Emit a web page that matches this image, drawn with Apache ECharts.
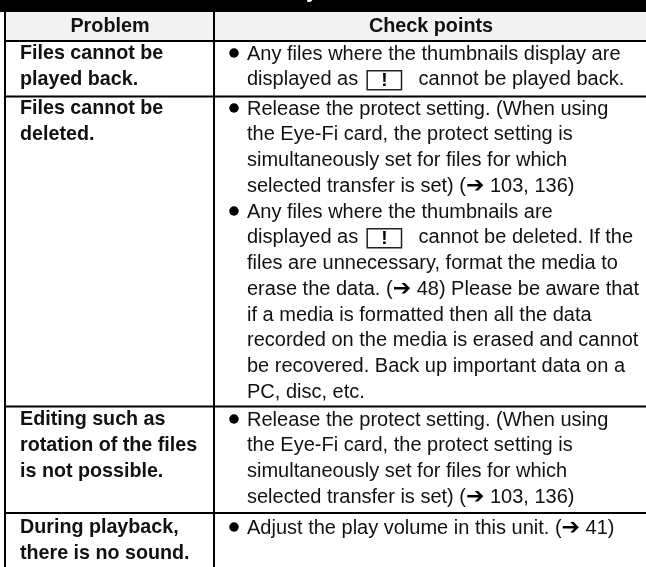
<!DOCTYPE html>
<html>
<head>
<meta charset="utf-8">
<style>html,body{margin:0;padding:0;background:#fff}#main{width:646px;height:567px}</style>
<script src="https://cdn.jsdelivr.net/npm/echarts@6/dist/echarts.min.js"></script>
</head>
<body>
<div id="main"></div>
<script>
// table contents
var headers = ['Problem', 'Check points']
var problems = [
  ['Files cannot be', 'played back.'],
  ['Files cannot be', 'deleted.'],
  ['Editing such as', 'rotation of the files', 'is not possible.'],
  ['During playback,', 'there is no sound.']
]
var checks = [
  ['Any files where the thumbnails display are', 'displayed as{g1| }{box|!}{g2| }cannot be played back.'],
  ['Release the protect setting. (When using', 'the Eye-Fi card, the protect setting is', 'simultaneously set for files for which', 'selected transfer is set) ({arrow|➔} 103, 136)',
   'Any files where the thumbnails are', 'displayed as{g1| }{box|!}{g2| }cannot be deleted. If the', 'files are unnecessary, format the media to', 'erase the data. ({arrow|➔} 48) Please be aware that', 'if a media is formatted then all the data', 'recorded on the media is erased and cannot', 'be recovered. Back up important data on a', 'PC, disc, etc.'],
  ['Release the protect setting. (When using', 'the Eye-Fi card, the protect setting is', 'simultaneously set for files for which', 'selected transfer is set) ({arrow|➔} 103, 136)'],
  ['Adjust the play volume in this unit. ({arrow|➔} 41)']
]
// index of the lines in each row that start with a bullet
var bulletLines = [[0], [0, 4], [0], [0]]

var font = 'Liberation Sans'
var fontSize = 20
var lineH = 25.75
var rowTops = [41, 96.5, 406.5, 513, 575]
var rowText = [54, 109, 420, 528]
var colX = [5, 214, 650]

var rich = {
  g1: {width: 9, fontSize: 20, fontFamily: font},
  g2: {width: 17, fontSize: 20, fontFamily: font},
  box: {borderColor: '#222', borderWidth: 1.5, padding: [2, 14, 1, 14], height: 16, lineHeight: 19, verticalAlign: 'bottom', fontWeight: 'bold', fontSize: 19, fontFamily: font, fill: '#000'},
  arrow: {fontFamily: 'DejaVu Sans', fontSize: 22, height: 20, lineHeight: 20, fontWeight: 'bold', fill: '#000'}
}

var rects = []   // x0, x1, y0, y1, fill
var segs = []    // x0, y0, x1, y1
var texts = []
var bullets = []

rects.push([0, 646, 0, 12, '#000'])
rects.push([colX[0], 646, 12, rowTops[0], '#f2f2f2'])
texts.push([110, 27, headers[0], 'bold', 'center', 19.8, '#111'])
texts.push([431, 27, headers[1], 'bold', 'center', 19.8, '#111'])
// tail of the cut off title
texts.push([312, -9, 'y', 'bold', 'center', 22, '#fff'])

problems.forEach(function (lines, r) {
  var y0 = rowText[r]
  lines.forEach(function (s, i) { texts.push([20, y0 + lineH * i, s, 'bold', 'left', 19.7, '#111']) })
  checks[r].forEach(function (s, i) { texts.push([247, y0 + lineH * i, s, 'normal', 'left', fontSize, '#111']) })
  bulletLines[r].forEach(function (i) { bullets.push([234, y0 + lineH * i - 1]) })
})
rowTops.forEach(function (y) { segs.push([colX[0], y, 646, y]) })
segs.push([colX[0], 12, colX[0], 567])
segs.push([colX[1], 12, colX[1], 567])

var myChart = echarts.init(document.getElementById('main'))
myChart.setOption({
  animation: false,
  grid: {left: 0, right: 0, top: 0, bottom: 0},
  xAxis: {type: 'value', min: 0, max: 646, show: false},
  yAxis: {type: 'value', min: 0, max: 567, inverse: true, show: false},
  series: [
    {
      type: 'custom', coordinateSystem: 'cartesian2d', silent: true,
      data: rects.map(function (c, i) { return [c[0], c[1], c[2], c[3], i] }),
      renderItem: function (params, api) {
        var a = api.coord([api.value(0), api.value(2)])
        var b = api.coord([api.value(1), api.value(3)])
        return {type: 'rect', shape: {x: a[0], y: a[1], width: b[0] - a[0], height: b[1] - a[1]}, style: {fill: rects[api.value(4)][4]}}
      }
    },
    {
      type: 'custom', coordinateSystem: 'cartesian2d', silent: true,
      data: segs,
      renderItem: function (params, api) {
        var a = api.coord([api.value(0), api.value(1)])
        var b = api.coord([api.value(2), api.value(3)])
        return {type: 'line', shape: {x1: a[0], y1: a[1], x2: b[0], y2: b[1]}, style: {stroke: '#000', lineWidth: 2}}
      }
    },
    {
      type: 'scatter', silent: true, symbol: 'circle', symbolSize: 9.5,
      itemStyle: {color: '#000', opacity: 1},
      data: bullets
    },
    {
      type: 'custom', coordinateSystem: 'cartesian2d', silent: true, clip: false,
      data: texts.map(function (t, i) { return [t[0], i] }),
      renderItem: function (params, api) {
        var t = texts[api.value(1)]
        var p = api.coord([t[0], t[1]])
        return {type: 'text', x: p[0], y: p[1], style: {text: t[2], fontFamily: font, fontSize: t[5], fontWeight: t[3], fill: t[6], align: t[4], verticalAlign: 'middle', rich: rich}}
      }
    }
  ]
})
</script>
</body>
</html>
